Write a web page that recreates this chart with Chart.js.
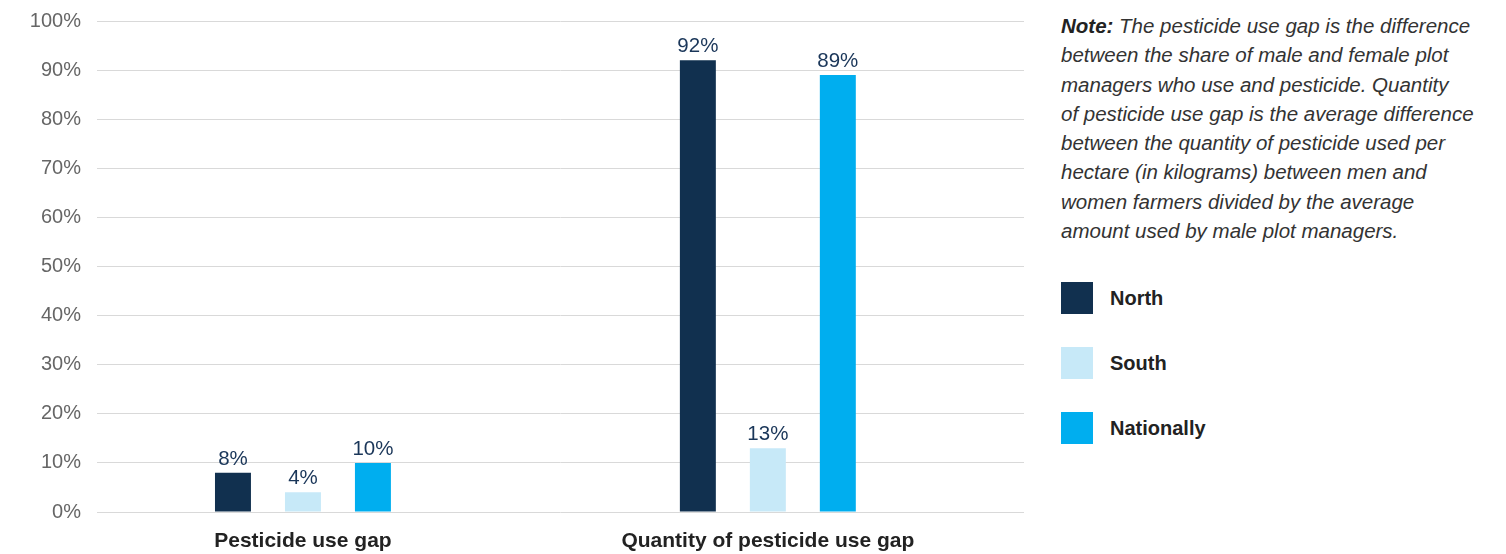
<!DOCTYPE html>
<html>
<head>
<meta charset="utf-8">
<script src="https://cdn.jsdelivr.net/npm/chart.js@4/dist/chart.umd.min.js"></script>
<style>
  html, body { margin: 0; padding: 0; background: #fff; }
  body { width: 1506px; height: 554px; position: relative; overflow: hidden; font-family: "Liberation Sans", Arial, sans-serif; }
  #wrap { position: absolute; left: 0; top: 0; width: 1040px; height: 554px; }
  #note { position: absolute; left: 1061px; top: 11px; font-size: 20.5px; line-height: 29.3px; font-style: italic; color: #333; white-space: nowrap; }
  #note b { color: #222; }
  #legend { position: absolute; left: 1061px; top: 282px; }
  .item { display: flex; align-items: center; height: 32px; margin-bottom: 33px; }
  .swatch { width: 32px; height: 32px; margin-right: 17px; }
  .lbl { font-size: 20px; font-weight: bold; color: #222; }
</style>
</head>
<body>
<div id="wrap"><canvas id="c"></canvas></div>
<div id="note"><b>Note:</b> The pesticide use gap is the difference<br>between the share of male and female plot<br>managers who use and pesticide. Quantity<br>of pesticide use gap is the average difference<br>between the quantity of pesticide used per<br>hectare (in kilograms) between men and<br>women farmers divided by the average<br>amount used by male plot managers.</div>
<div id="legend"></div>
<script>
// Indicators on the horizontal axis
const categories = ['Pesticide use gap', 'Quantity of pesticide use gap'];
// Gap in percent, per region
const seriesNames = ['North', 'South', 'Nationally'];
const north = [8, 92];
const south = [4, 13];
const nationally = [10, 89];
const seriesColors = ['#11304f', '#c7e9f8', '#00aeef'];
// Percent axis ticks
const yTicks = [0, 10, 20, 30, 40, 50, 60, 70, 80, 90, 100];

const seriesValues = [north, south, nationally];

const datasets = seriesNames.map((name, s) => ({
  label: name,
  data: categories.map((c, i) => ({ x: i, y: seriesValues[s][i] })),
  backgroundColor: seriesColors[s],
  borderWidth: 0,
  categoryPercentage: 0.4516,
  barPercentage: 0.514
}));

// Value labels drawn above each bar
const valueLabels = {
  id: 'valueLabels',
  afterDatasetsDraw(chart) {
    const ctx = chart.ctx;
    ctx.save();
    ctx.font = '20.5px "Liberation Sans", Arial, sans-serif';
    ctx.fillStyle = '#1a3659';
    ctx.textAlign = 'center';
    ctx.textBaseline = 'alphabetic';
    chart.data.datasets.forEach((ds, di) => {
      chart.getDatasetMeta(di).data.forEach((el, i) => {
        ctx.fillText(ds.data[i].y + '%', el.x, el.y - 8);
      });
    });
    ctx.restore();
  }
};

new Chart(document.getElementById('c'), {
  type: 'bar',
  data: { datasets },
  options: {
    responsive: true,
    maintainAspectRatio: false,
    animation: false,
    layout: { padding: { left: 0, right: 16, top: 21, bottom: 0 } },
    plugins: { legend: { display: false }, tooltip: { enabled: false } },
    scales: {
      x: {
        type: 'linear',
        offset: false,
        min: -0.443,
        max: 1.551,
        grid: { display: false, drawTicks: false },
        border: { display: false },
        afterBuildTicks(scale) {
          scale.ticks = categories.map((c, i) => ({ value: i }));
        },
        afterFit(scale) { scale.height = 42; },
        ticks: {
          padding: 17,
          maxRotation: 0,
          autoSkip: false,
          color: '#222',
          font: { family: '"Liberation Sans", Arial, sans-serif', size: 21, weight: 'bold' },
          callback: (v) => categories[v] ?? ''
        }
      },
      y: {
        min: 0,
        max: 100,
        afterBuildTicks(scale) {
          scale.ticks = yTicks.map(v => ({ value: v }));
        },
        afterFit(scale) { scale.width = 97; },
        grid: { color: '#d9d9d9', lineWidth: 1, drawTicks: true, tickLength: 16, tickColor: 'rgba(0,0,0,0)' },
        border: { display: false },
        ticks: {
          padding: 0,
          color: '#666',
          font: { family: '"Liberation Sans", Arial, sans-serif', size: 20 },
          callback: (v) => v + '%'
        }
      }
    }
  },
  plugins: [valueLabels]
});

// Legend beside the chart
const legend = document.getElementById('legend');
seriesNames.forEach((name, s) => {
  const row = document.createElement('div');
  row.className = 'item';
  const sw = document.createElement('div');
  sw.className = 'swatch';
  sw.style.background = seriesColors[s];
  const lb = document.createElement('span');
  lb.className = 'lbl';
  lb.textContent = name;
  row.appendChild(sw);
  row.appendChild(lb);
  legend.appendChild(row);
});
</script>
</body>
</html>
